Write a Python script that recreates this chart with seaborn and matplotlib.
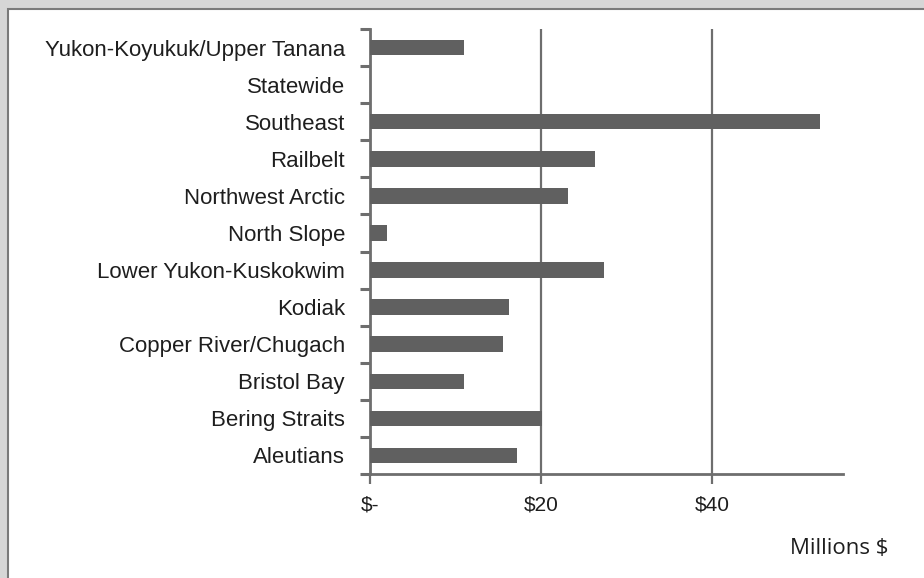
import seaborn as sns
import matplotlib.pyplot as plt
import pandas as pd
from matplotlib.patches import Rectangle

# Regional spending (millions of dollars), top to bottom as shown
regions = ['Yukon-Koyukuk/Upper Tanana', 'Statewide', 'Southeast', 'Railbelt',
           'Northwest Arctic', 'North Slope', 'Lower Yukon-Kuskokwim', 'Kodiak',
           'Copper River/Chugach', 'Bristol Bay', 'Bering Straits', 'Aleutians']
millions = [11.0, 0.0, 52.6, 26.3, 23.1, 2.0, 27.3, 16.3, 15.6, 11.0, 20.1, 17.2]
xticks = [0, 20, 40]
xtick_labels = ['$-', '$20', '$40']

df = pd.DataFrame({'region': regions, 'millions': millions})

sns.set_style('white')
plt.rcParams['font.family'] = ['Liberation Sans', 'DejaVu Sans']

fig = plt.figure(figsize=(9.24, 5.78), dpi=100)
fig.patch.set_facecolor('#d6d6d6')
# white panel with a dark edge on the top and left
fig.add_artist(Rectangle((8 / 924, -0.02), 1.05, 1 - 9 / 578 + 0.02,
                         transform=fig.transFigure, facecolor='white',
                         edgecolor='#7a7a7a', linewidth=1.5, zorder=0))

ax = fig.add_axes([370 / 924, 1 - 474 / 578, (843 - 370) / 924, (474 - 29) / 578])
ax.set_facecolor('none')

sns.barplot(data=df, x='millions', y='region', order=regions, orient='h',
            color='#606060', saturation=1, width=0.42, linewidth=0,
            ax=ax, zorder=3)

ax.set_xlim(0, 55.3)
ax.set_ylim(len(regions) - 0.5, -0.5)
ax.set_xlabel('')
ax.set_ylabel('')

# vertical gridlines
ax.set_xticks(xticks)
ax.set_xticklabels(xtick_labels)
ax.xaxis.grid(True, color='#6e6e6e', linewidth=1.6)
ax.set_axisbelow(True)

# category boundary ticks on the y axis
ax.set_yticks([i - 0.5 for i in range(len(regions) + 1)], minor=True)
ax.tick_params(axis='y', which='major', length=0, pad=18, labelsize=16,
               labelcolor='#1e1e1e')
ax.tick_params(axis='y', which='minor', left=True, length=7, width=2.2,
               color='#6e6e6e')
ax.tick_params(axis='x', which='major', bottom=True, length=7.5, width=1.6,
               color='#6e6e6e', pad=8, labelsize=15, labelcolor='#1e1e1e')

sns.despine(ax=ax, top=True, right=True)
for side in ['left', 'bottom']:
    ax.spines[side].set_color('#6e6e6e')
    ax.spines[side].set_linewidth(2)

fig.text(888 / 924, 1 - 548 / 578, 'Millions $', ha='right', va='center',
         fontsize=16, family=['Open Sans', 'DejaVu Sans'], color='#1e1e1e')

plt.savefig('out.png', dpi=100, facecolor=fig.get_facecolor())
